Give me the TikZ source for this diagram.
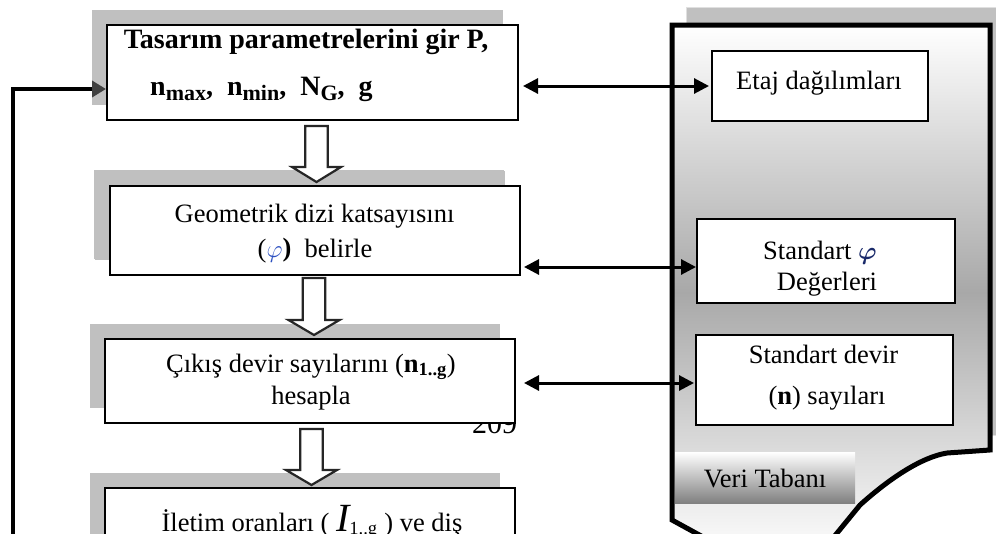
\documentclass[tikz,border=0pt]{standalone}
\usepackage{fontspec}
\setmainfont{Liberation Serif}
\usepackage{bm}
\usetikzlibrary{arrows.meta,shadows,calc}
\definecolor{shgray}{HTML}{C0C0C0}
\definecolor{headgray}{HTML}{404040}
\definecolor{phiblue}{HTML}{2B4FC0}
\definecolor{phidark}{HTML}{1A2A6A}
\newcommand\fsz{\fontsize{26.5}{33}\selectfont}
\newcommand\fszb{\fontsize{28}{33}\selectfont\bfseries}
\newcommand\bsub[1]{\raisebox{-5pt}{\fontsize{22}{22}\selectfont\bfseries #1}}
\newcommand\blkarr[3]{%
  \draw[blkstyle] let \p1=(#1), \p2=(#2) in
    (\x1-11.25pt,\y1) -- (\x1-11.25pt,\y2+15pt) -- (\x1-#3,\y2+15pt) -- (\x1,\y2)
    -- (\x1+#3,\y2+15pt) -- (\x1+11.25pt,\y2+15pt) -- (\x1+11.25pt,\y1) -- cycle;}
\begin{document}
\begin{tikzpicture}[x=1pt,y=-1pt,
  box/.style={draw=black, line width=2pt, fill=white, inner sep=0pt,
    general shadow={fill=shgray, shadow xshift=-15pt, shadow yshift=15pt}},
  rbox/.style={draw=black, line width=2pt, fill=white, inner sep=0pt},
  txt/.style={font=\fsz, anchor=base, inner sep=0pt},
  dbl/.style={line width=3pt, {Triangle[length=15pt,width=15pt]}-{Triangle[length=15pt,width=15pt]}},
  loopar/.style={line width=4.5pt, line join=miter, -{Triangle[length=14pt,width=16pt,color=headgray]}},
  blkstyle/.style={fill=white, draw=black!85, line width=2.2pt, line join=miter}]
\useasboundingbox (0,0) rectangle (996,533);
\clip (0,0) rectangle (996,533);
\fill[white] (0,0) rectangle (996,533);

% database shape
\filldraw[fill=shgray, draw=black!12, line width=1pt] (686,7) rectangle (1010,435);
\draw[line width=5pt, line join=miter, top color=white, bottom color=white, middle color=black!34]
  (672,25) -- (990,25) -- (990,450) -- (947,453)
  .. controls (922,457) and (890,478) .. (860,505) -- (815,560) -- (745,560) -- (672,520) -- cycle;
\node[top color=white, bottom color=black!50, minimum width=180pt, minimum height=51pt, inner sep=0pt] (vt) at (765,477.5) {};
\node[txt] (vtt) at (765,487) {Veri Tabanı};

% right boxes
\node[rbox, minimum width=216pt, minimum height=70pt] (etaj) at (820,86) {};
\node[txt] (etajt) at (819,89) {Etaj dağılımları};
\node[rbox, minimum width=258pt, minimum height=84pt] (phi) at (826,261) {};
\node[txt] (phit1) at (820,259.5) {Standart {\color{phidark}$\bm{\varphi}$}};
\node[txt] (phit2) at (827,290) {Değerleri};
\node[rbox, minimum width=257pt, minimum height=90pt] (dev) at (824.5,380) {};
\node[txt] (devt1) at (823.5,363) {Standart devir};
\node[txt] (devt2) at (827,404) {(\textbf{n}) sayıları};

% left boxes
\node[box, minimum width=411pt, minimum height=95pt] (b1) at (312.5,72.5) {};
\node[txt, font=\fszb] (b1t1) at (306,48) {Tasarım parametrelerini gir P,};
\node[txt, font=\fszb, anchor=base west] (b1t2) at (150,95) {n\bsub{max},\ \ n\bsub{min},\ \ N\bsub{G},\ \ g};
\node[box, minimum width=410pt, minimum height=89pt, general shadow={fill=shgray, shadow xshift=-16pt, shadow yshift=16pt}] (b2) at (315,230.5) {};
\node[txt] (b2t1) at (314.5,222) {Geometrik dizi katsayısını};
\node[txt] (b2t2) at (315,257) {({\color{phiblue}$\varphi$}\raisebox{1pt}{\textbf{)}}\ \ belirle};
\node[font=\fontsize{30}{30}\selectfont, anchor=base west, inner sep=0pt] (pg) at (472,433) {209};
\node[box, minimum width=410pt, minimum height=84pt] (b3) at (310,381) {};
\node[txt] (b3t1) at (311,372) {Çıkış devir sayılarını (\textbf{n}\textsubscript{\textbf{1..g}})};
\node[txt] (b3t2) at (311,404) {hesapla};
\node[box, minimum width=410pt, minimum height=120pt] (b4) at (310,548) {};
\node[txt] (b4t) at (312,531)
  {İletim oranları ( {\fontsize{40}{40}\selectfont\itshape I}\textsubscript{1..g} ) ve diş};

% block arrows
\blkarr{[xshift=4pt,yshift=-5pt]b1.south}{[yshift=3pt]b2.north}{24.5pt}
\blkarr{[xshift=-1pt,yshift=-2pt]b2.south}{[yshift=3pt]b3.north}{25.5pt}
\blkarr{[xshift=1.5pt,yshift=-5pt]b3.south}{[yshift=2pt]b4.north}{25.5pt}

% double arrows
\coordinate (a2) at ([yshift=-6pt]phi.west);
\coordinate (a3) at ([yshift=-3pt]dev.west);
\draw[dbl, shorten <=4pt, shorten >=2pt] (b1.east |- etaj.west) -- (etaj.west);
\draw[dbl, shorten <=3pt] (b2.east |- a2) -- (a2);
\draw[dbl, shorten <=8pt, shorten >=1pt] (b3.east |- a3) -- (a3);

% feedback loop
\coordinate (lp) at (13,600);
\coordinate (a0) at ([yshift=-16.5pt]b1.west);
\draw[loopar] (lp) |- (a0);
\end{tikzpicture}
\end{document}
